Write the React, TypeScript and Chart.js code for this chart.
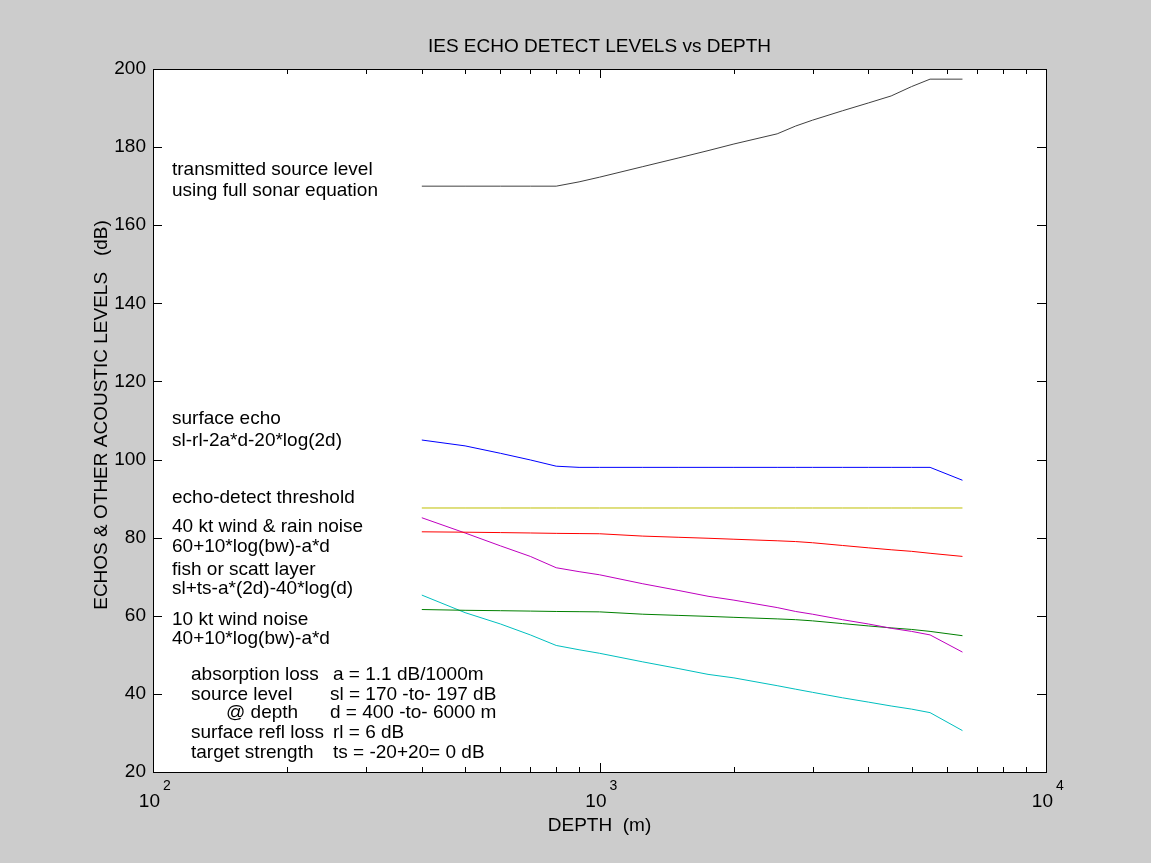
import React, { useEffect, useRef } from 'react';
import { Chart, registerables } from 'chart.js';
Chart.register(...registerables);

// ---- data ----
const depths = [400, 500, 600, 700, 800, 900, 1000, 1250, 1500, 1750, 2000, 2500, 2750, 3000, 3500, 4000, 4500, 5000, 5500, 6500];
const sourceLevel = [170, 170, 170, 170, 170, 171.1, 172.3, 175, 177.2, 179.1, 180.8, 183.4, 185.4, 186.9, 189.3, 191.3, 193.1, 195.5, 197.4, 197.4];
const surfaceEcho = [105, 103.5, 101.6, 99.9, 98.3, 98.0, 98, 98, 98, 98, 98, 98, 98, 98, 98, 98, 98, 98, 98, 94.7];
const threshold = [87.6, 87.6, 87.6, 87.6, 87.6, 87.6, 87.6, 87.6, 87.6, 87.6, 87.6, 87.6, 87.6, 87.6, 87.6, 87.6, 87.6, 87.6, 87.6, 87.6];
const rainNoise = [81.5, 81.4, 81.3, 81.2, 81.1, 81.05, 81.0, 80.4, 80.1, 79.85, 79.6, 79.2, 79.0, 78.7, 78.0, 77.4, 76.9, 76.5, 76.0, 75.2];
const fishLayer = [85.1, 81.2, 77.9, 75.2, 72.3, 71.3, 70.5, 68.2, 66.5, 65.0, 64.0, 62.1, 61.1, 60.4, 59.0, 57.9, 56.8, 56.0, 55.1, 50.7];
const windNoise = [61.6, 61.4, 61.3, 61.2, 61.1, 61.05, 61.0, 60.4, 60.1, 59.85, 59.6, 59.2, 59.0, 58.7, 58.0, 57.4, 56.9, 56.5, 56.0, 54.9];
const cyanSeries = [65.3, 60.8, 57.9, 55.1, 52.4, 51.3, 50.4, 48.2, 46.5, 45.0, 44.1, 42.1, 41.2, 40.4, 39.0, 37.9, 36.9, 36.1, 35.2, 30.6];

const yTicks = [20, 40, 60, 80, 100, 120, 140, 160, 180, 200];
const xDecades = [100, 1000, 10000];
const xDecadeExp = ['2', '3', '4'];

const titleText = 'IES ECHO DETECT LEVELS vs DEPTH';
const xLabel = 'DEPTH  (m)';
const yLabel = 'ECHOS & OTHER ACOUSTIC LEVELS   (dB)';

const seriesNotes = [
  'transmitted source level',
  'using full sonar equation',
  'surface echo',
  'sl-rl-2a*d-20*log(2d)',
  'echo-detect threshold',
  '40 kt wind & rain noise',
  '60+10*log(bw)-a*d',
  'fish or scatt layer',
  'sl+ts-a*(2d)-40*log(d)',
  '10 kt wind noise',
  '40+10*log(bw)-a*d',
];
const paramLeft = ['absorption loss', 'source level', '@ depth', 'surface refl loss', 'target strength'];
const paramRight = ['a = 1.1 dB/1000m', 'sl = 170 -to- 197 dB', 'd = 400 -to- 6000 m', 'rl = 6 dB', 'ts = -20+20= 0 dB'];

// ---- layout (pixels) ----
const seriesNoteY = [170, 191, 419, 441, 498, 527, 547, 570, 589, 620, 639];
const paramY = [675, 695, 713, 733, 753];
const FONT = '"Liberation Sans", Arial, Helvetica, sans-serif';

const pts = (arr: number[]) => depths.map((d, i) => ({ x: d, y: arr[i] }));

export default function App() {
  const ref = useRef<HTMLCanvasElement>(null);
  useEffect(() => {
    if (!ref.current) return;
    const decor = {
      id: 'decor',
      beforeDraw(chart: any) {
        const { ctx, chartArea: a } = chart;
        ctx.save();
        ctx.fillStyle = '#ffffff';
        ctx.fillRect(a.left, a.top, a.right - a.left, a.bottom - a.top);
        ctx.restore();
      },
      afterDraw(chart: any) {
        const { ctx, chartArea: a } = chart;
        const xs = chart.scales.x;
        const ys = chart.scales.y;
        ctx.save();
        ctx.strokeStyle = '#000';
        ctx.lineWidth = 1;
        ctx.strokeRect(Math.round(a.left) + 0.5, Math.round(a.top) + 0.5, Math.round(a.right - a.left), Math.round(a.bottom - a.top));
        // x ticks (log, inward)
        ctx.beginPath();
        for (let e = 2; e < 4; e++) {
          for (let m = 1; m <= 10; m++) {
            const v = m * Math.pow(10, e);
            const px = Math.round(xs.getPixelForValue(v)) + 0.5;
            const len = m === 1 || m === 10 ? 9 : 5;
            ctx.moveTo(px, a.bottom);
            ctx.lineTo(px, a.bottom - len);
            ctx.moveTo(px, a.top);
            ctx.lineTo(px, a.top + len);
          }
        }
        for (const t of yTicks) {
          const py = Math.round(ys.getPixelForValue(t)) + 0.5;
          ctx.moveTo(a.left, py);
          ctx.lineTo(a.left + 9, py);
          ctx.moveTo(a.right, py);
          ctx.lineTo(a.right - 9, py);
        }
        ctx.stroke();

        ctx.fillStyle = '#000';
        // x tick labels 10^n
        xDecades.forEach((v, i) => {
          const px = xs.getPixelForValue(v);
          ctx.font = `19px ${FONT}`;
          ctx.textAlign = 'right';
          ctx.textBaseline = 'alphabetic';
          ctx.fillText('10', px + 7, 807);
          ctx.font = `14px ${FONT}`;
          ctx.textAlign = 'left';
          ctx.fillText(xDecadeExp[i], px + 10, 790);
        });

        // title and axis labels
        const cx = (a.left + a.right) / 2;
        ctx.font = `19px ${FONT}`;
        ctx.textAlign = 'center';
        ctx.textBaseline = 'middle';
        ctx.fillText(titleText, cx, 47);
        ctx.fillText(xLabel, cx, 826);
        ctx.save();
        ctx.translate(102, 415);
        ctx.rotate(-Math.PI / 2);
        ctx.fillText(yLabel, 0, 0);
        ctx.restore();

        // annotations
        ctx.textAlign = 'left';
        ctx.textBaseline = 'middle';
        seriesNotes.forEach((s, i) => ctx.fillText(s, a.left + 19, seriesNoteY[i]));
        paramLeft.forEach((s, i) => ctx.fillText(s, a.left + (i === 2 ? 73 : 38), paramY[i]));
        paramRight.forEach((s, i) => ctx.fillText(s, a.left + (i === 1 || i === 2 ? 177 : 180), paramY[i]));
        ctx.restore();
      },
    };

    const mk = (label: string, arr: number[], color: string) => ({
      label,
      data: pts(arr),
      borderColor: color,
      backgroundColor: color,
      borderWidth: 1,
      pointRadius: 0,
      tension: 0,
      fill: false,
    });

    const chart = new Chart(ref.current, {
      type: 'line',
      data: {
        datasets: [
          mk('transmitted source level', sourceLevel, '#404040'),
          mk('surface echo', surfaceEcho, '#0000ff'),
          mk('echo-detect threshold', threshold, '#bfbf00'),
          mk('40 kt wind & rain noise', rainNoise, '#ff0000'),
          mk('fish or scatt layer', fishLayer, '#bf00bf'),
          mk('10 kt wind noise', windNoise, '#008000'),
          mk('cyan', cyanSeries, '#00bfbf'),
        ],
      },
      options: {
        responsive: false,
        animation: false,
        devicePixelRatio: 1,
        layout: { padding: { top: 69, right: 105, left: 0, bottom: 0 } },
        plugins: { legend: { display: false }, title: { display: false }, tooltip: { enabled: false } },
        scales: {
          x: {
            type: 'logarithmic',
            min: 100,
            max: 10000,
            grid: { display: false },
            border: { display: false },
            ticks: { display: false },
            afterFit: (s: any) => { s.height = 91; },
          },
          y: {
            type: 'linear',
            min: 20,
            max: 200,
            grid: { display: false, drawTicks: false },
            border: { display: false },
            ticks: { stepSize: 20, color: '#000', font: { size: 19, family: FONT }, padding: 7 },
            afterFit: (s: any) => { s.width = 153; },
          },
        },
      } as any,
      plugins: [decor],
    });
    return () => chart.destroy();
  }, []);

  return (
    <div style={{ position: 'absolute', left: 0, top: 0, width: 1151, height: 863, background: '#cccccc' }}>
      <canvas ref={ref} width={1151} height={863} style={{ width: 1151, height: 863 }} />
    </div>
  );
}
